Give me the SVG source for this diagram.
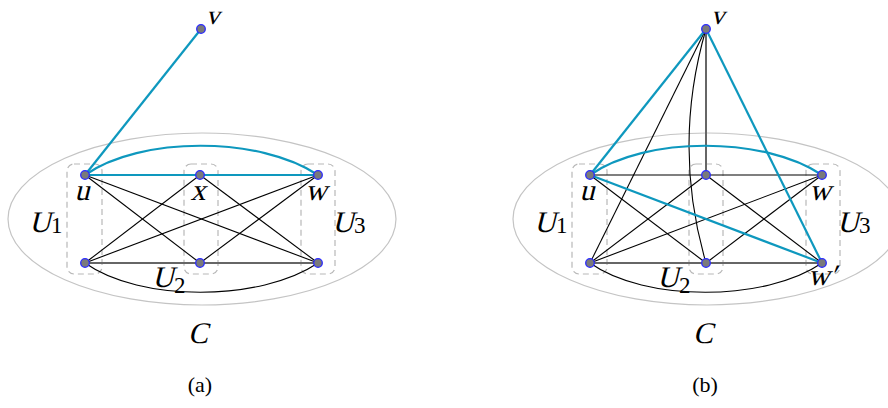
<svg xmlns="http://www.w3.org/2000/svg" width="888" height="408" viewBox="0 0 888 408">
<style>
.ell{fill:none;stroke:#c4c4c4;stroke-width:1.2}
.box{fill:none;stroke:#b8b8b8;stroke-width:1.2;stroke-dasharray:6 4}
.e{fill:none;stroke:#000;stroke-width:1.1}
.g{fill:none;stroke:#666;stroke-width:2}
.b{fill:none;stroke:#0e98be;stroke-width:2.2}
.n{fill:#7a7a7a;stroke:#2a2aff;stroke-width:1.3}
.lb{font-family:"Liberation Serif",serif;font-size:30px;fill:#000}
.vl{font-family:"Liberation Serif",serif;font-size:27px;fill:#000}
.sub{font-family:"Liberation Serif",serif;font-size:23px;fill:#000}
.cap{font-family:"Liberation Serif",serif;font-size:22px;fill:#000}
</style>
<rect width="888" height="408" fill="#fff"/>
<!-- panel a -->
<g id="panelA-frame">
<ellipse class="ell" cx="202" cy="219" rx="194" ry="86"/>
<rect class="box" x="67" y="164" width="35" height="110" rx="7"/>
<rect class="box" x="184" y="164" width="34" height="110" rx="7"/>
<rect class="box" x="301" y="164" width="34" height="110" rx="7"/>
</g>
<g id="connectorsA">
<line class="e" x1="85" y1="175" x2="200" y2="263"/>
<line class="e" x1="85" y1="175" x2="318" y2="263"/>
<line class="e" x1="200" y1="175" x2="85" y2="263"/>
<line class="e" x1="200" y1="175" x2="318" y2="263"/>
<line class="e" x1="318" y1="175" x2="85" y2="263"/>
<line class="e" x1="318" y1="175" x2="200" y2="263"/>
<line class="g" x1="85" y1="263" x2="318" y2="263"/>
<path class="e" d="M85 263 C140 302 260 302 318 263"/>
<line class="b" x1="85" y1="175" x2="318" y2="175"/>
<path class="b" d="M85 175 C140 136 260 136 318 175"/>
<line class="b" x1="85" y1="175" x2="201" y2="29"/>
</g>
<g id="a-v"><circle class="n" cx="201" cy="29" r="4.3"/><text class="vl" transform="translate(206,24) skewX(-14)">v</text></g>
<g id="a-u"><circle class="n" cx="85" cy="175" r="4.3"/><text class="lb" text-anchor="middle" transform="translate(82,200) skewX(-14)">u</text></g>
<g id="a-x"><circle class="n" cx="200" cy="175" r="4.3"/><text class="lb" text-anchor="middle" transform="translate(198,200) skewX(-14)">x</text></g>
<g id="a-w"><circle class="n" cx="318" cy="175" r="4.3"/><text class="lb" text-anchor="middle" transform="translate(316,200) skewX(-14)">w</text></g>
<g id="a-b1"><circle class="n" cx="85" cy="263" r="4.3"/></g>
<g id="a-b2"><circle class="n" cx="200" cy="263" r="4.3"/></g>
<g id="a-b3"><circle class="n" cx="318" cy="263" r="4.3"/></g>
<g id="a-labels">
<g transform="translate(29,232)"><text class="lb" transform="skewX(-14)">U</text><text class="sub" x="22" y="1">1</text></g>
<g transform="translate(152,287)"><text class="lb" transform="skewX(-14)">U</text><text class="sub" x="22" y="6">2</text></g>
<g transform="translate(332,232)"><text class="lb" transform="skewX(-14)">U</text><text class="sub" x="22" y="1">3</text></g>
<text class="lb" text-anchor="middle" transform="translate(198,343) skewX(-14)">C</text>
<text class="cap" x="200" y="392" text-anchor="middle">(a)</text>
</g>
<!-- panel b -->
<g id="panelB-frame">
<ellipse class="ell" cx="707" cy="219" rx="194" ry="86"/>
<rect class="box" x="572" y="164" width="35" height="110" rx="7"/>
<rect class="box" x="689" y="164" width="34" height="110" rx="7"/>
<rect class="box" x="806" y="164" width="34" height="110" rx="7"/>
</g>
<g id="connectorsB">
<line class="e" x1="590" y1="175" x2="822" y2="175"/>
<line class="e" x1="590" y1="175" x2="706" y2="263"/>
<line class="e" x1="706" y1="175" x2="590" y2="263"/>
<line class="e" x1="706" y1="175" x2="822" y2="263"/>
<line class="e" x1="822" y1="175" x2="590" y2="263"/>
<line class="e" x1="822" y1="175" x2="706" y2="263"/>
<line class="g" x1="590" y1="263" x2="822" y2="263"/>
<path class="e" d="M590 263 C645 302 765 302 822 263"/>
<line class="e" x1="706" y1="29" x2="590" y2="263"/>
<path class="e" d="M706 29 Q672 146 706 263"/>
<line class="g" x1="706" y1="29" x2="706" y2="175"/>
<line class="b" x1="590" y1="175" x2="822" y2="263"/>
<path class="b" d="M590 175 C645 136 765 136 822 175"/>
<line class="b" x1="590" y1="175" x2="706" y2="29"/>
<line class="b" x1="706" y1="29" x2="822" y2="263"/>
</g>
<g id="b-v"><circle class="n" cx="706" cy="29" r="4.3"/><text class="vl" transform="translate(711,24) skewX(-14)">v</text></g>
<g id="b-u"><circle class="n" cx="590" cy="175" r="4.3"/><text class="lb" text-anchor="middle" transform="translate(587,200) skewX(-14)">u</text></g>
<g id="b-x"><circle class="n" cx="706" cy="175" r="4.3"/></g>
<g id="b-w"><circle class="n" cx="822" cy="175" r="4.3"/><text class="lb" text-anchor="middle" transform="translate(820,200) skewX(-14)">w</text></g>
<g id="b-b1"><circle class="n" cx="590" cy="263" r="4.3"/></g>
<g id="b-b2"><circle class="n" cx="706" cy="263" r="4.3"/></g>
<g id="b-wp"><circle class="n" cx="822" cy="263" r="4.3"/><text class="lb" transform="translate(808,285) skewX(-14)">w′</text></g>
<g id="b-labels">
<g transform="translate(534,232)"><text class="lb" transform="skewX(-14)">U</text><text class="sub" x="22" y="1">1</text></g>
<g transform="translate(657,287)"><text class="lb" transform="skewX(-14)">U</text><text class="sub" x="22" y="6">2</text></g>
<g transform="translate(837,232)"><text class="lb" transform="skewX(-14)">U</text><text class="sub" x="22" y="1">3</text></g>
<text class="lb" text-anchor="middle" transform="translate(703,343) skewX(-14)">C</text>
<text class="cap" x="705" y="392" text-anchor="middle">(b)</text>
</g>
</svg>
